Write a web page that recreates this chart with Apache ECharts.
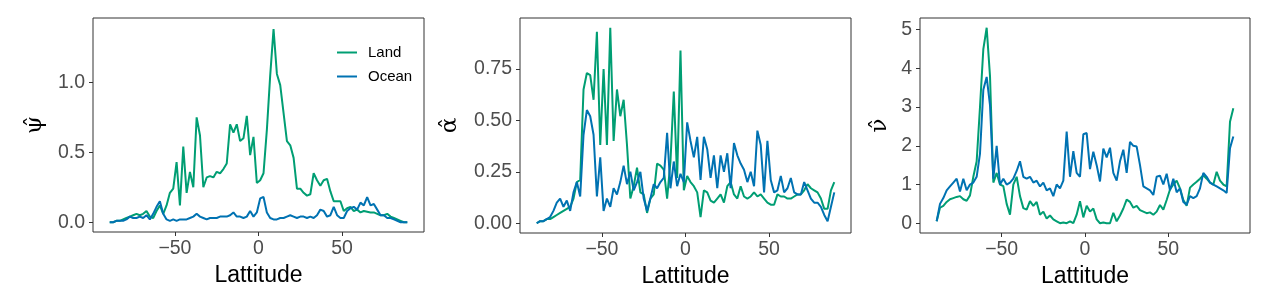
<!DOCTYPE html>
<html>
<head>
<meta charset="utf-8">
<script src="https://cdn.jsdelivr.net/npm/echarts@6/dist/echarts.min.js"></script>
<style>
html,body{margin:0;padding:0;background:#fff;}
#chart{width:1269px;height:305px;}
</style>
</head>
<body>
<div id="chart"></div>
<script>
// Latitude grid (degrees)
const LAT = [-89,-87,-85,-83,-81,-79,-77,-75,-73,-71,
  -69,-67,-65,-63,-61,-59,-57,-55,-53,-51,
  -49,-47,-45,-43,-41,-39,-37,-35,-33,-31,
  -29,-27,-25,-23,-21,-19,-17,-15,-13,-11,
  -9,-7,-5,-3,-1,1,3,5,7,9,
  11,13,15,17,19,21,23,25,27,29,
  31,33,35,37,39,41,43,45,47,49,
  51,53,55,57,59,61,63,65,67,69,
  71,73,75,77,79,81,83,85,87,89];

// psi-hat
const PSI_LAND = [0.00,0.00,0.01,0.01,0.02,0.03,0.04,0.05,0.06,0.05,
  0.06,0.08,0.04,0.03,0.08,0.12,0.06,0.12,0.21,0.24,
  0.43,0.12,0.54,0.21,0.36,0.25,0.75,0.62,0.25,0.32,
  0.33,0.32,0.36,0.35,0.38,0.42,0.70,0.64,0.70,0.58,
  0.60,0.76,0.48,0.61,0.28,0.30,0.35,0.66,1.05,1.38,
  1.06,0.98,0.78,0.58,0.55,0.46,0.24,0.24,0.21,0.19,
  0.20,0.35,0.30,0.26,0.30,0.31,0.22,0.15,0.15,0.15,
  0.08,0.10,0.11,0.08,0.09,0.07,0.08,0.075,0.07,0.07,
  0.06,0.05,0.05,0.06,0.04,0.03,0.02,0.01,0.00,0.00];
const PSI_OCEAN = [0.00,0.00,0.01,0.01,0.01,0.02,0.04,0.03,0.03,0.04,
  0.03,0.05,0.02,0.06,0.11,0.15,0.06,0.02,0.01,0.02,
  0.01,0.02,0.02,0.02,0.03,0.04,0.06,0.04,0.03,0.02,
  0.03,0.03,0.03,0.04,0.04,0.04,0.05,0.07,0.04,0.04,
  0.03,0.04,0.08,0.04,0.07,0.17,0.18,0.07,0.03,0.02,
  0.02,0.03,0.03,0.04,0.05,0.04,0.03,0.04,0.04,0.03,
  0.04,0.03,0.05,0.09,0.08,0.04,0.05,0.11,0.05,0.03,
  0.03,0.08,0.10,0.11,0.09,0.14,0.12,0.18,0.12,0.13,
  0.09,0.05,0.05,0.03,0.03,0.02,0.01,0.00,0.00,0.00];

// alpha-hat
const ALPHA_LAND = [0.00,0.01,0.01,0.02,0.02,0.03,0.04,0.05,0.06,0.07,
  0.08,0.12,0.20,0.21,0.65,0.73,0.72,0.60,0.93,0.38,
  0.75,0.38,0.95,0.40,0.65,0.52,0.60,0.38,0.12,0.18,
  0.27,0.15,0.14,0.05,0.12,0.14,0.29,0.28,0.26,0.12,
  0.30,0.64,0.22,0.84,0.16,0.23,0.20,0.18,0.15,0.03,
  0.16,0.15,0.11,0.10,0.12,0.14,0.10,0.18,0.20,0.14,
  0.12,0.18,0.13,0.12,0.13,0.15,0.13,0.14,0.12,0.10,
  0.09,0.09,0.14,0.13,0.13,0.12,0.12,0.13,0.14,0.14,
  0.16,0.19,0.17,0.16,0.15,0.12,0.07,0.07,0.16,0.20];
const ALPHA_OCEAN = [0.00,0.01,0.01,0.02,0.03,0.06,0.10,0.12,0.08,0.11,
  0.06,0.15,0.20,0.13,0.43,0.55,0.52,0.43,0.13,0.32,
  0.06,0.12,0.08,0.17,0.14,0.20,0.28,0.19,0.25,0.16,
  0.20,0.25,0.12,0.06,0.12,0.19,0.17,0.20,0.22,0.44,
  0.17,0.30,0.18,0.24,0.20,0.49,0.40,0.32,0.42,0.21,
  0.42,0.36,0.22,0.33,0.17,0.33,0.25,0.34,0.17,0.39,
  0.33,0.29,0.26,0.20,0.25,0.18,0.45,0.38,0.15,0.40,
  0.21,0.15,0.16,0.23,0.15,0.17,0.22,0.15,0.14,0.14,
  0.20,0.16,0.12,0.10,0.10,0.08,0.04,0.01,0.08,0.15];

// nu-hat
const NU_LAND = [0.05,0.40,0.45,0.55,0.62,0.65,0.68,0.70,0.62,0.58,
  0.72,1.20,1.60,3.00,4.50,5.05,3.80,1.05,1.30,1.00,
  0.96,0.50,0.22,1.00,1.20,0.70,0.39,0.35,0.57,0.45,
  0.55,0.22,0.30,0.12,0.20,0.10,0.05,0.00,0.02,0.00,
  0.05,0.00,0.22,0.57,0.15,0.45,0.30,0.38,0.10,0.00,
  0.02,0.00,0.00,0.27,0.05,0.20,0.38,0.61,0.55,0.40,
  0.45,0.34,0.30,0.26,0.28,0.22,0.30,0.47,0.35,0.60,
  0.87,1.00,1.10,0.90,0.60,0.45,0.92,1.00,1.07,1.15,
  1.24,1.15,1.05,1.00,1.33,1.10,1.00,0.95,2.62,2.97];
const NU_OCEAN = [0.05,0.50,0.65,0.85,0.95,1.05,1.15,0.82,1.15,0.85,
  1.00,1.05,1.20,1.80,3.45,3.78,3.05,1.15,2.00,1.00,
  1.15,1.00,1.05,1.15,1.35,1.60,1.20,1.15,1.20,1.05,
  1.10,0.95,1.05,0.85,0.90,0.70,1.00,0.90,1.10,2.37,
  1.20,1.86,1.30,1.20,2.30,2.33,1.40,1.85,1.50,1.08,
  1.93,1.70,1.95,1.30,1.10,1.60,1.90,1.30,2.10,2.00,
  1.98,1.50,0.95,0.90,0.85,0.73,1.20,1.23,1.00,1.28,
  0.85,1.15,0.80,0.90,0.55,0.48,0.70,0.65,0.70,0.90,
  1.30,1.20,1.05,1.00,0.95,0.90,0.85,0.78,1.94,2.24];

const X_TICKS = [-50, 0, 50];
const PSI_TICKS = [0, 0.5, 1.0];
const ALPHA_TICKS = [0, 0.25, 0.5, 0.75];
const NU_TICKS = [0, 1, 2, 3, 4, 5];

const LAND_COLOR = '#009E73';
const OCEAN_COLOR = '#0072B2';
const FONT = 'Liberation Sans';

const zip = (ys) => LAT.map((x, i) => [x, ys[i]]);

const grids = [
  {left: 93, top: 18, width: 331, height: 214},
  {left: 520, top: 18, width: 331, height: 215},
  {left: 920, top: 18, width: 330, height: 215}
].map(g => Object.assign(g, {show: true, borderColor: '#333', borderWidth: 1, backgroundColor: 'transparent'}));

function xAxis(i) {
  return {
    type: 'value', gridIndex: i, min: -99, max: 99, position: 'bottom',
    name: 'Lattitude', nameLocation: 'middle', nameGap: 30,
    nameTextStyle: {fontFamily: FONT, fontSize: 23, color: '#000'},
    axisLine: {show: false, onZero: false},
    axisTick: {show: true, length: 4, lineStyle: {color: '#333', width: 1}, customValues: X_TICKS},
    axisLabel: {fontFamily: FONT, fontSize: 19.5, color: '#4d4d4d', margin: 7, customValues: X_TICKS,
      formatter: v => (v < 0 ? '\u2212' + Math.abs(v) : String(v))},
    splitLine: {show: false}
  };
}
function yAxis(i, min, max, ticks, dec, name, gap) {
  return {
    type: 'value', gridIndex: i, min: min, max: max, position: 'left',
    name: name, nameLocation: 'middle', nameGap: gap, nameRotate: 90,
    nameTextStyle: {fontFamily: 'DejaVu Serif', fontSize: 23, color: '#000'},
    axisLine: {show: false, onZero: false},
    axisTick: {show: true, length: 4, lineStyle: {color: '#333', width: 1}, customValues: ticks},
    axisLabel: {fontFamily: FONT, fontSize: 19.5, color: '#4d4d4d', margin: 8, customValues: ticks,
      formatter: v => Number(v).toFixed(dec)},
    splitLine: {show: false}
  };
}
function line(name, data, color, i) {
  return {type: 'line', name: name, xAxisIndex: i, yAxisIndex: i, data: data,
    symbol: 'none', lineStyle: {color: color, width: 2}, itemStyle: {color: color},
    animation: false};
}

const option = {
  animation: false,
  grid: grids,
  xAxis: [xAxis(0), xAxis(1), xAxis(2)],
  yAxis: [
    yAxis(0, -0.07, 1.46, PSI_TICKS, 1, '\u03C8\u0302', 46),
    yAxis(1, -0.0475, 0.9975, ALPHA_TICKS, 2, '\u03B1\u0302', 58),
    yAxis(2, -0.2525, 5.3025, NU_TICKS, 0, '\u03BD\u0302', 28)
  ],
  legend: {
    show: true, orient: 'vertical', left: 337, top: 45, padding: 0,
    itemWidth: 20, itemHeight: 2, itemGap: 9,
    icon: 'rect',
    textStyle: {fontFamily: FONT, fontSize: 15, color: '#000', padding: [0, 0, 0, 6]},
    data: ['Land', 'Ocean']
  },
  series: [
    line('Land', zip(PSI_LAND), LAND_COLOR, 0),
    line('Ocean', zip(PSI_OCEAN), OCEAN_COLOR, 0),
    line('Land', zip(ALPHA_LAND), LAND_COLOR, 1),
    line('Ocean', zip(ALPHA_OCEAN), OCEAN_COLOR, 1),
    line('Land', zip(NU_LAND), LAND_COLOR, 2),
    line('Ocean', zip(NU_OCEAN), OCEAN_COLOR, 2)
  ]
};

const chart = echarts.init(document.getElementById('chart'), null, {renderer: 'canvas'});
chart.setOption(option);
</script>
</body>
</html>
